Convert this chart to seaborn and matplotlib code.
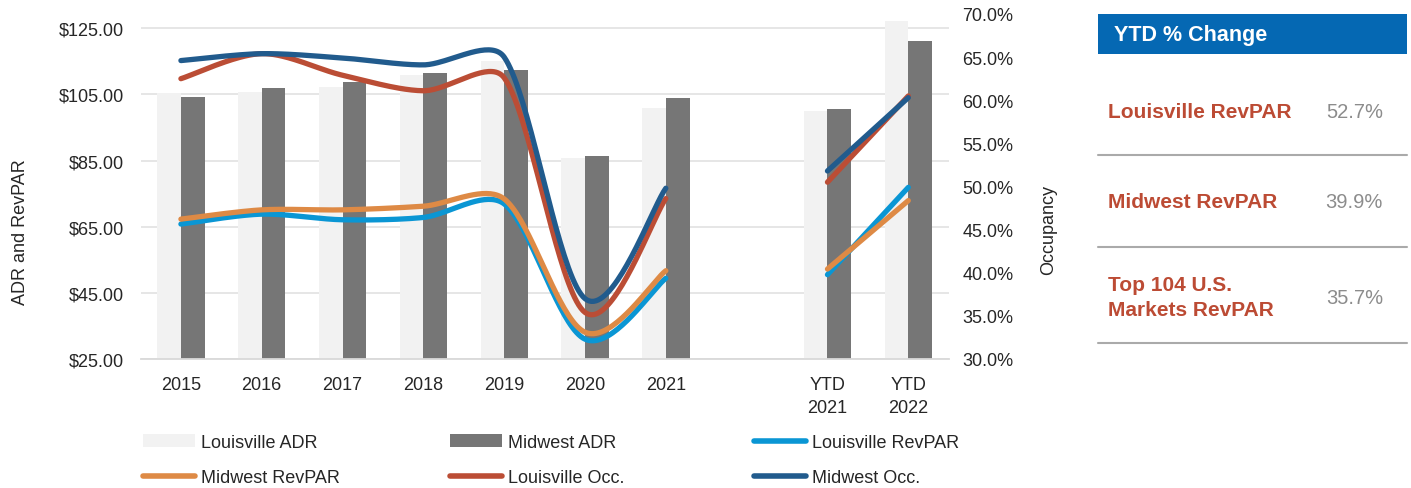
import numpy as np
import pandas as pd
import matplotlib
matplotlib.use("Agg")
import matplotlib.pyplot as plt
from matplotlib.patches import Patch, Rectangle
from matplotlib.lines import Line2D
import seaborn as sns

# ---------------- data ----------------
categories = ["2015", "2016", "2017", "2018", "2019", "2020", "2021", " ", "YTD\n2021", "YTD\n2022"]
louisville_adr = [105.4, 105.8, 107.3, 110.9, 115.1, 85.9, 100.9, None, 100.1, 127.1]
midwest_adr = [104.3, 107.0, 108.7, 111.4, 112.5, 86.3, 103.9, None, 100.6, 121.1]
louisville_revpar = [65.8, 68.8, 67.1, 67.8, 71.9, 31.0, 49.4, None, 50.5, 76.9]
midwest_revpar = [67.3, 70.1, 70.1, 71.2, 73.4, 33.1, 51.7, None, 52.2, 72.9]
louisville_occ = [62.5, 65.4, 62.9, 61.1, 62.6, 35.4, 48.6, None, 50.5, 60.5]
midwest_occ = [64.6, 65.4, 64.9, 64.1, 65.0, 37.0, 49.8, None, 51.8, 60.3]

table_labels = ["Louisville RevPAR", "Midwest RevPAR", "Top 104 U.S.\nMarkets RevPAR"]
table_values = ["52.7%", "39.9%", "35.7%"]

# ---------------- style ----------------
C_LADR = "#f2f2f2"
C_MADR = "#767676"
C_LREV = "#0a96d4"
C_MREV = "#de8a45"
C_LOCC = "#bb4d35"
C_MOCC = "#215b8d"
TXT = "#262626"

sns.set_theme(style="white")
plt.rcParams["font.family"] = ["Liberation Sans", "DejaVu Sans"]
FS = 13

W, H = 1411, 489
fig = plt.figure(figsize=(W / 100, H / 100), dpi=100)

x0, x1, yt, yb = 140.5, 948.7, 15, 360
ax = fig.add_axes([x0 / W, 1 - yb / H, (x1 - x0) / W, (yb - yt) / H])

df = pd.DataFrame({
    "cat": categories * 2,
    "series": ["Louisville ADR"] * len(categories) + ["Midwest ADR"] * len(categories),
    "value": louisville_adr + midwest_adr,
}).dropna()

sns.barplot(data=df, x="cat", y="value", hue="series", order=categories,
            hue_order=["Louisville ADR", "Midwest ADR"],
            palette=[C_LADR, C_MADR], width=0.586, saturation=1,
            errorbar=None, legend=False, ax=ax, linewidth=0, zorder=2)

ax.set_xlim(-0.5, len(categories) - 0.5)
ax.set_ylim(25, 25 + (yb - yt) / 3.307)
ax.set_yticks([25, 45, 65, 85, 105, 125])
ax.set_yticklabels([f"${v:.2f}" for v in [25, 45, 65, 85, 105, 125]], fontsize=FS, color=TXT)
ax.yaxis.grid(True, color="#e4e4e4", linewidth=1.3, zorder=0)
ax.set_axisbelow(True)
for s in ["top", "left", "right"]:
    ax.spines[s].set_visible(False)
ax.spines["bottom"].set_color("#d9d9d9")
ax.spines["bottom"].set_linewidth(1.3)
ax.set_xticks(range(len(categories)))
ax.set_xticklabels(categories, fontsize=FS, color=TXT, linespacing=1.5, va="top")
ax.set_xticks(np.arange(-0.5, len(categories)), minor=True)
ax.tick_params(axis="x", which="major", length=0, pad=12)
ax.tick_params(axis="x", which="minor", length=6, width=1.3, color="#d9d9d9")
ax.tick_params(axis="y", length=0, pad=12)
ax.set_xlabel("")
ax.set_ylabel("ADR and RevPAR", fontsize=FS, color=TXT)
ax.yaxis.set_label_coords((29 - x0) / (x1 - x0), (yb - 232) / (yb - yt))

ax2 = ax.twinx()
ax2.set_ylim(30, 70)
ax2.set_yticks(np.arange(30, 71, 5))
ax2.set_yticklabels([f"{v:.1f}%" for v in np.arange(30, 71, 5)], fontsize=FS, color=TXT)
ax2.tick_params(axis="y", length=0, pad=10)
for s in ax2.spines.values():
    s.set_visible(False)
ax2.grid(False)
ax2.set_ylabel("Occupancy", fontsize=FS, color=TXT)
ax2.yaxis.set_label_coords((1040 - x0) / (x1 - x0), (yb - 230) / (yb - yt))


def smooth(axis, xs, ys, f=1 / 6, cap=0.3, n=40):
    """Excel-like smoothed line: Bezier segments in screen space."""
    P = axis.transData.transform(np.column_stack([xs, ys]))
    if len(P) < 3:
        return axis.transData.inverted().transform(P)
    out = []
    t = np.linspace(0, 1, n)[:, None]
    for i in range(len(P) - 1):
        p0 = P[i - 1] if i > 0 else P[i]
        p1, p2 = P[i], P[i + 1]
        p3 = P[i + 2] if i + 2 < len(P) else P[i + 1]
        seg_len = np.linalg.norm(p2 - p1)
        d1 = (p2 - p0) * f
        d2 = (p3 - p1) * f
        for d in (d1, d2):
            L = np.linalg.norm(d)
            if L > cap * seg_len:
                d *= cap * seg_len / L
        c1 = p1 + d1
        c2 = p2 - d2
        seg = (1 - t) ** 3 * p1 + 3 * (1 - t) ** 2 * t * c1 + 3 * (1 - t) * t ** 2 * c2 + t ** 3 * p2
        out.append(seg if i == 0 else seg[1:])
    return axis.transData.inverted().transform(np.vstack(out))


def draw_series(axis, vals, color):
    xs = np.arange(len(vals))
    v = np.array([np.nan if a is None else a for a in vals], dtype=float)
    runs, cur = [], []
    for xi, yi in zip(xs, v):
        if np.isnan(yi):
            if cur:
                runs.append(cur)
            cur = []
        else:
            cur.append((xi, yi))
    if cur:
        runs.append(cur)
    for r in runs:
        r = np.array(r)
        pts = smooth(axis, r[:, 0], r[:, 1])
        axis.plot(pts[:, 0], pts[:, 1], color=color, lw=3.8, solid_capstyle="round", zorder=5)


draw_series(ax, louisville_revpar, C_LREV)
draw_series(ax, midwest_revpar, C_MREV)
draw_series(ax2, louisville_occ, C_LOCC)
draw_series(ax2, midwest_occ, C_MOCC)

# ---------------- legend ----------------
def lh(c):
    return Line2D([], [], color=c, lw=4, solid_capstyle="round")

cols = [
    [(Patch(facecolor=C_LADR, edgecolor="none"), "Louisville ADR"), (lh(C_MREV), "Midwest RevPAR")],
    [(Patch(facecolor=C_MADR, edgecolor="none"), "Midwest ADR"), (lh(C_LOCC), "Louisville Occ.")],
    [(lh(C_LREV), "Louisville RevPAR"), (lh(C_MOCC), "Midwest Occ.")],
]
for xpx, col in zip([143, 450, 754], cols):
    fig.legend([c[0] for c in col], [c[1] for c in col], loc="upper left",
               bbox_to_anchor=(xpx / W, 1 - 435 / H), frameon=False, fontsize=FS,
               handlelength=2.9, handletextpad=0.3, labelspacing=1.0,
               borderpad=0, borderaxespad=0, labelcolor=TXT)

# ---------------- table ----------------
tax = fig.add_axes([0, 0, 1, 1], facecolor="none")
tax.set_xlim(0, W)
tax.set_ylim(H, 0)
tax.axis("off")
tax.add_patch(Rectangle((1098, 15), 309, 40, facecolor="#0568b3", edgecolor="none"))
tax.text(1114, 36, "YTD % Change", color="white", fontsize=15.5, fontweight="bold", va="center", ha="left")
row_y = [112, 202, 298]
for lab, val, yy in zip(table_labels, table_values, row_y):
    tax.text(1108, yy, lab, color="#bc4b34", fontsize=15, fontweight="bold",
             va="center", ha="left", linespacing=1.4)
    tax.text(1383, yy, val, color="#8c8c8c", fontsize=14.5, va="center", ha="right")
for yy in [155.5, 247.5, 344]:
    tax.plot([1098, 1407], [yy, yy], color="#aaaaaa", lw=1.5)

fig.savefig("out.png", dpi=100)
